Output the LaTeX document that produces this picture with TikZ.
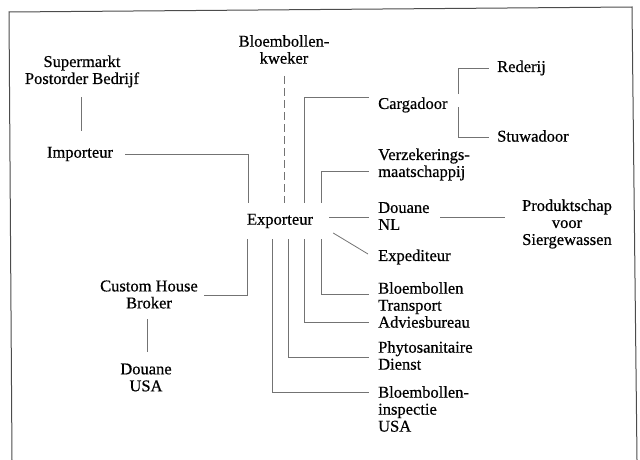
\documentclass[tikz,border=0pt]{standalone}
\usepackage{fontspec}
\setmainfont{Liberation Serif}[FakeBold=0.6]
\begin{document}
\begin{tikzpicture}[x=1pt,y=-1pt,
  lbl/.style={inner sep=0pt, font=\fontsize{16.5}{17}\selectfont, text=black, align=center},
  lbll/.style={lbl, align=left, anchor=west},
  link/.style={draw=black!55, line width=0.8pt},
  dashlink/.style={link, dash pattern=on 8pt off 4pt},
  frame/.style={draw=black!70, line width=1pt}]
\useasboundingbox (0,0) rectangle (640,460);
% outer frame (open at the bottom)
\draw[frame] (12,460) -- (9,12) -- (632,7) -- (637,460);

% central node
\node[lbl, minimum width=98pt, minimum height=36pt] (exp) at (280,221) {Exporteur};

% left side
\node[lbl] (kwe) at (284,49.5) {Bloembollen-\\kweker};
\node[lbl] (sup) at (82,71.5) {Supermarkt\\Postorder Bedrijf};
\node[lbl] (imp) at (80,154) {Importeur};
\node[lbl] (chb) at (149,294.5) {Custom House\\Broker};
\node[lbl] (dusa) at (146,377.5) {Douane\\USA};

% right side
\node[lbll] (carg) at (378,105) {Cargadoor};
\node[lbll] (rede) at (497,68) {Rederij};
\node[lbll] (stu) at (497,136) {Stuwadoor};
\node[lbll] (verz) at (378,164.5) {Verzekerings-\\maatschappij};
\node[lbll] (dnl) at (378,216) {Douane\\NL};
\node[lbl] (prod) at (567,224) {Produktschap\\voor\\Siergewassen};
\node[lbll] (expd) at (378,257) {Expediteur};
\node[lbll] (bbt) at (378,305) {Bloembollen\\Transport\\Adviesbureau};
\node[lbll] (phy) at (378,355.5) {Phytosanitaire\\Dienst};
\node[lbll] (bbi) at (378,409) {Bloembollen-\\inspectie\\USA};

% connectors on the left
\draw[link] ([xshift=-1pt,yshift=-25.5pt]sup.center) -- ([xshift=1pt,yshift=23pt]imp.center);
\draw[link] ([xshift=45pt]imp.center) -| ([xshift=-32pt]exp.north);
\draw[dashlink] ([yshift=-26.5pt]kwe.center) -- ([xshift=4pt]exp.north);
\draw[link] ([xshift=-33pt]exp.south) |- ([xshift=55pt,yshift=-0.5pt]chb.center);
\draw[link] ([xshift=-2pt,yshift=-24.5pt]chb.center) -- ([xshift=1pt,yshift=25.5pt]dusa.center);

% connectors above Exporteur
\draw[link] ([xshift=24pt]exp.north) |- ([xshift=-9pt,yshift=8pt]carg.west);
\draw[link] ([xshift=41pt]exp.north) |- ([xshift=-9pt,yshift=-6.5pt]verz.west);

% Cargadoor bracket
\draw[link] ([xshift=80pt,yshift=11pt]carg.west) |- ([xshift=-8pt]rede.west);
\draw[link] ([xshift=80pt,yshift=-2pt]carg.west) |- ([xshift=-8pt,yshift=-1pt]stu.west);

% connectors to the right of Exporteur
\draw[link] ([yshift=4pt]exp.east) -- ([xshift=-9pt,yshift=-1pt]dnl.west);
\draw[link] ([xshift=62pt,yshift=-1pt]dnl.west) -- ([xshift=-62pt,yshift=7pt]prod.center);
\draw[link] ([xshift=4pt,yshift=-12pt]exp.east) -- ([xshift=-10pt,yshift=3pt]expd.west);

% connectors below Exporteur
\draw[link] ([xshift=41pt]exp.south) |- ([xshift=-9pt,yshift=11pt]bbt.west);
\draw[link] ([xshift=24pt]exp.south) |- ([xshift=-9pt,yshift=-17pt]bbt.west);
\draw[link] ([xshift=8pt]exp.south) |- ([xshift=-9pt,yshift=-1.5pt]phy.west);
\draw[link] ([xshift=-8pt]exp.south) |- ([xshift=-9pt,yshift=17pt]bbi.west);
\end{tikzpicture}
\end{document}
